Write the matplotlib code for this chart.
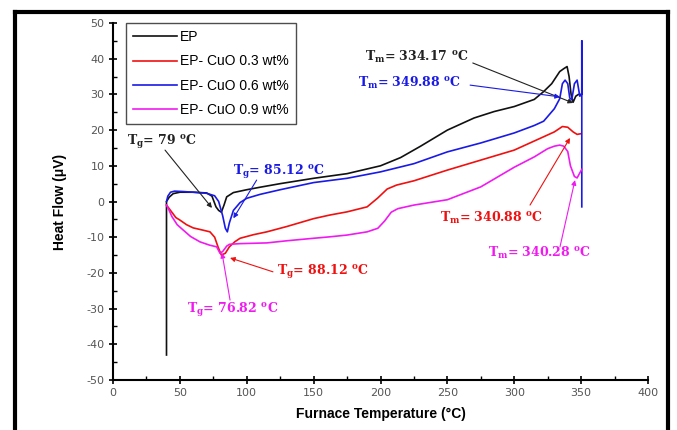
import matplotlib
matplotlib.use("Agg")
import matplotlib.pyplot as plt
from matplotlib.lines import Line2D
from matplotlib.ticker import MultipleLocator

plt.rcParams["axes.unicode_minus"] = False

# ---- data ----
ep_t = [40, 40, 42, 45, 50, 60, 70, 74, 77, 79, 81, 83, 85, 90, 100, 110, 125, 150, 175, 200,
        215, 230, 250, 270, 285, 300, 315, 322, 328, 334, 337, 339.5, 341, 342.5, 344, 346, 348, 350]
ep_v = [-43, 0, 1.2, 2.2, 2.6, 2.6, 2.4, 1.5, -1.5, -2.5, -3.0, -1.0, 1.3, 2.5, 3.3, 4.0, 5.0, 6.5, 7.8, 10.0,
        12.3, 15.5, 20.0, 23.4, 25.2, 26.6, 28.6, 30.8, 33.0, 36.4, 37.2, 37.8, 35.0, 30.0, 27.8, 29.5, 30.0, 30.0]

cuo3_t = [40, 43, 47, 50, 55, 60, 67, 72.5, 76, 78.5, 81, 84, 87, 91, 95, 105, 115, 130, 150, 162,
          175, 190, 198, 205, 212, 225, 250, 275, 300, 320, 330, 336, 340, 344, 347, 350]
cuo3_v = [-1, -2.5, -4.5, -5.2, -6.5, -7.4, -8.0, -8.5, -10.0, -12.7, -15.0, -14.5, -12.7, -11.3, -10.3, -9.3, -8.5, -7.0, -4.8, -3.8,
          -2.9, -1.5, 1.0, 3.5, 4.6, 5.8, 8.8, 11.6, 14.4, 17.8, 19.5, 21.0, 20.8, 19.5, 18.8, 19.0]

cuo6_t = [40, 41, 43, 46, 52, 60, 70, 76, 79, 82, 84, 85.5, 87, 90, 95, 100, 110, 125, 150, 175,
          200, 225, 250, 275, 300, 315, 322, 330, 334, 336, 338, 340, 341.5, 343, 345, 347, 349, 350.5, 350.5, 350.5]
cuo6_v = [0, 1.5, 2.6, 2.9, 2.8, 2.6, 2.3, 1.6, 0.0, -4.0, -7.5, -8.5, -6.0, -2.5, -0.3, 0.9, 2.0, 3.3, 5.3, 6.5,
          8.3, 10.6, 13.9, 16.4, 19.2, 21.3, 22.5, 26.0, 28.8, 33.0, 34.0, 33.0, 29.0, 28.5, 33.0, 34.0, 29.5, 30.0, 45.0, -1.5]

cuo9_t = [40, 42, 44, 48, 52.5, 58, 65, 72, 77.5, 80, 82, 85, 87, 95, 105, 115, 130, 150, 162, 175,
          190, 198, 203, 208, 213, 225, 250, 275, 300, 315, 325, 330, 334, 337, 340, 342, 345, 347, 349, 350.5]
cuo9_v = [-1, -2.5, -4.2, -6.5, -8.0, -9.8, -11.3, -12.2, -12.7, -14.5, -14.0, -12.5, -12.0, -11.8, -11.7, -11.6, -11.0, -10.3, -9.9, -9.4,
          -8.5, -7.5, -5.5, -3.0, -2.0, -1.0, 0.5, 4.1, 9.6, 12.5, 14.8, 15.5, 15.8, 15.5, 14.0, 10.0, 7.0, 6.6, 8.0, 9.0]

labels = ["EP", "EP- CuO 0.3 wt%", "EP- CuO 0.6 wt%", "EP- CuO 0.9 wt%"]
colors = ["#111111", "#f01010", "#1a1ae6", "#f01af0"]

x_ticks = [0, 50, 100, 150, 200, 250, 300, 350, 400]
y_ticks = [-50, -40, -30, -20, -10, 0, 10, 20, 30, 40, 50]

# ---- figure ----
fig = plt.figure(figsize=(6.77, 4.30), dpi=100)
ax = fig.add_axes([113 / 677, 1 - 380 / 430, 535 / 677, 357 / 430])

series = [(ep_t, ep_v), (cuo3_t, cuo3_v), (cuo6_t, cuo6_v), (cuo9_t, cuo9_v)]
for (t, v), lab, c in zip(series, labels, colors):
    ax.plot(t, v, color=c, lw=1.2, label=lab)

ax.set_xlim(0, 400)
ax.set_ylim(-50, 50)
ax.set_xticks(x_ticks)
ax.set_yticks(y_ticks)
ax.xaxis.set_minor_locator(MultipleLocator(25))
ax.yaxis.set_minor_locator(MultipleLocator(5))
ax.tick_params(which="major", direction="inout", length=6, width=1.2,
               labelsize=8, labelcolor="#555555", pad=3)
ax.tick_params(which="minor", direction="in", length=3, width=1.0)
for s in ["top", "right"]:
    ax.spines[s].set_visible(False)
for s in ["left", "bottom"]:
    ax.spines[s].set_linewidth(1.5)

ax.set_xlabel("Furnace Temperature (°C)", fontsize=10, fontweight="bold",
              family="Liberation Sans", labelpad=6)
ax.set_ylabel("Heat Flow (\u03bcV)", fontsize=10, fontweight="bold",
              family="Liberation Sans", labelpad=14)

leg = ax.legend(loc="upper left", bbox_to_anchor=(0.024, 1.0), borderaxespad=0,
                frameon=True, fancybox=False, handlelength=3.2, handletextpad=0.2,
                labelspacing=0.75, borderpad=0.5,
                prop={"family": "Liberation Sans", "size": 10})
leg.get_frame().set_edgecolor("#222222")
leg.get_frame().set_linewidth(1.0)

# ---- annotations ----
tfont = dict(family="DejaVu Serif", fontweight="bold", fontsize=9)
def note(txt, pos, start, target, color):
    ax.text(pos[0], pos[1], txt, color=color, ha="left", va="center", **tfont)
    ax.annotate("", xy=target, xytext=start,
                arrowprops=dict(arrowstyle="-|>", color=color, lw=0.8,
                                mutation_scale=7, shrinkA=0, shrinkB=0))

note(r"T$_\mathregular{g}$= 79 $^\mathregular{o}$C", (10.5, 16.7), (38.9, 14.4), (74, -1.8), "#222222")
note(r"T$_\mathregular{g}$= 85.12 $^\mathregular{o}$C", (89.7, 8.3), (107.4, 6.0), (90, -4.7), "#1a1ae6")
note(r"T$_\mathregular{m}$= 334.17 $^\mathregular{o}$C", (188.4, 40.5), (269, 38.8), (344, 27.6), "#222222")
note(r"T$_\mathregular{m}$= 349.88 $^\mathregular{o}$C", (183.2, 33.2), (267, 32.6), (334.2, 29.3), "#1a1ae6")
note(r"T$_\mathregular{m}$= 340.88 $^\mathregular{o}$C", (244.5, -4.6), (311.8, -1.0), (341.7, 17.8), "#f01010")
note(r"T$_\mathregular{m}$= 340.28 $^\mathregular{o}$C", (280.4, -14.4), (334.2, -12.7), (345.4, 6.0), "#f01af0")
note(r"T$_\mathregular{g}$= 88.12 $^\mathregular{o}$C", (122.6, -19.7), (119.6, -19.7), (87.5, -15.8), "#f01010")
note(r"T$_\mathregular{g}$= 76.82 $^\mathregular{o}$C", (55.3, -30.4), (87.5, -27.6), (81.5, -14.4), "#f01af0")

# ---- outer frame of the picture ----
xl, xr, yt = 14.5 / 677, 668 / 677, 1 - 11.5 / 430
for xs, ys in [([xl, xl], [0, yt]), ([xl, xr], [yt, yt]), ([xr, xr], [yt, 0])]:
    fig.add_artist(Line2D(xs, ys, color="black", lw=3, transform=fig.transFigure))

fig.savefig("out.png", dpi=100)
